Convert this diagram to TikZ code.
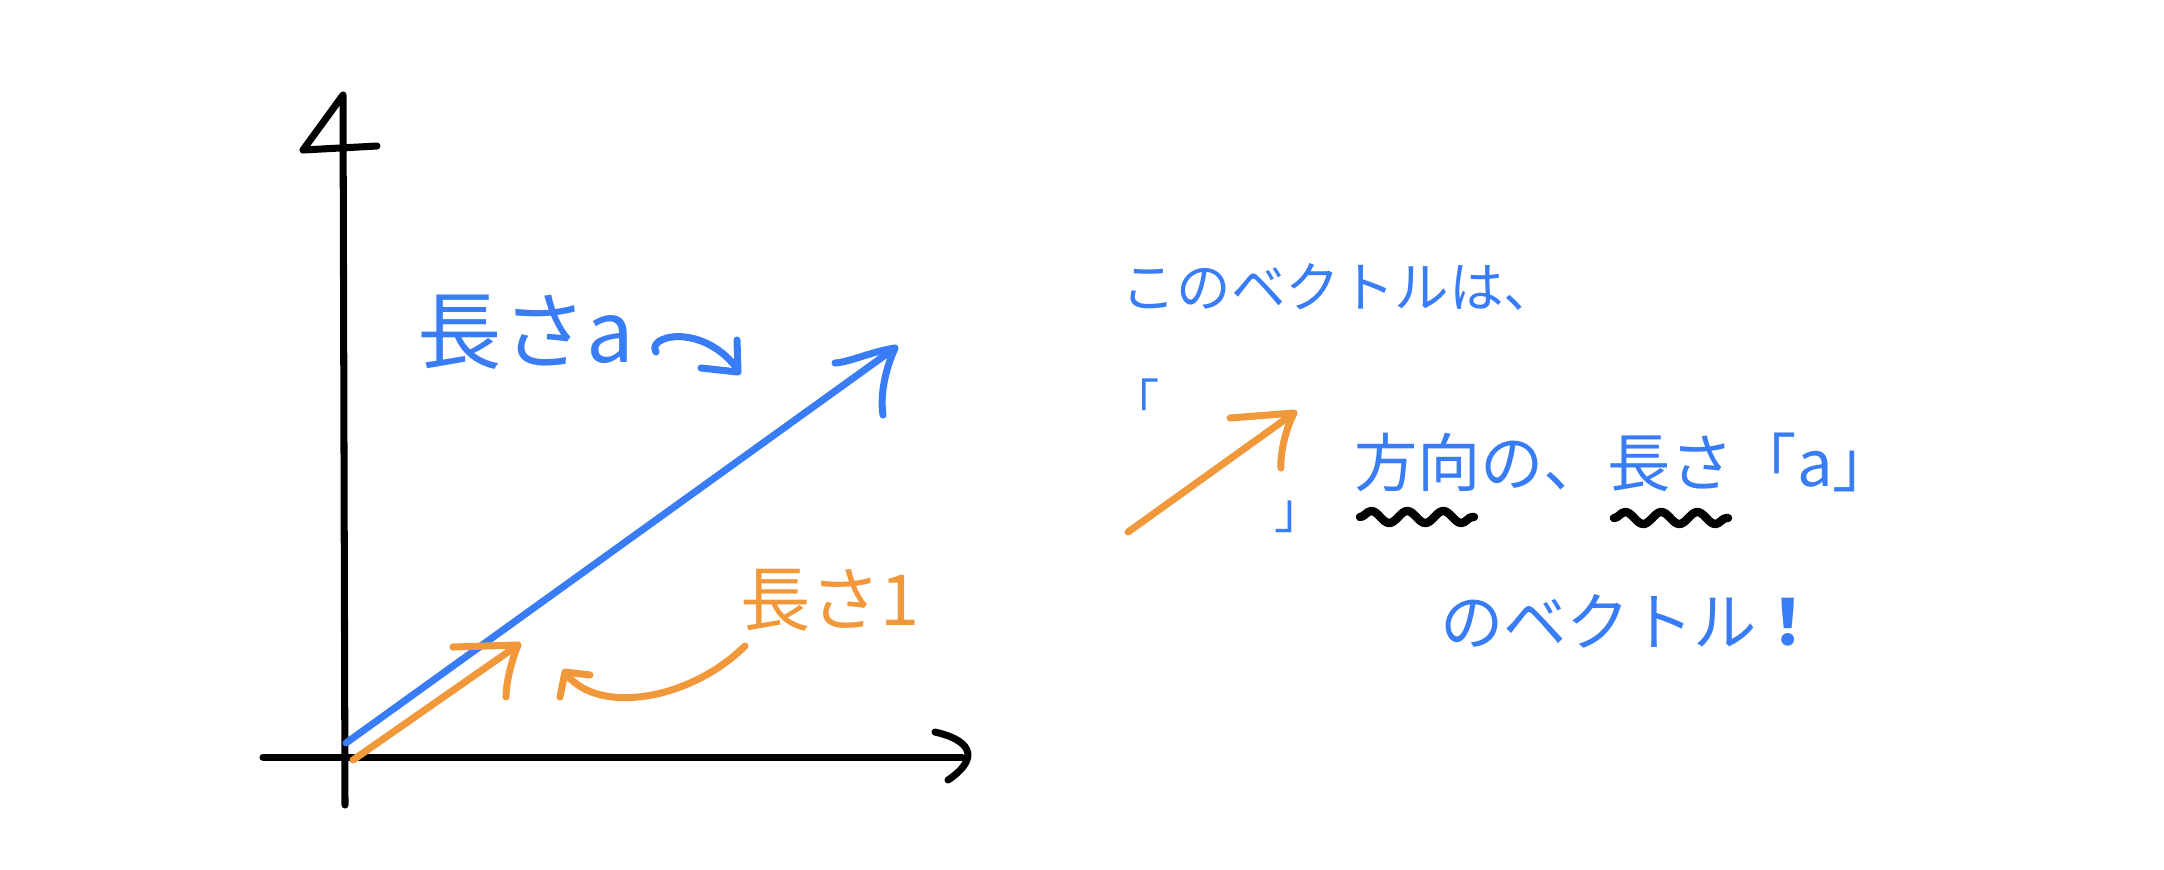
\documentclass[tikz,border=0pt]{standalone}
\usepackage{fontspec}
\newfontfamily\jp{Noto Sans CJK JP}
\usetikzlibrary{decorations.pathmorphing,positioning}
\definecolor{penblue}{RGB}{56,125,245}
\definecolor{penorange}{RGB}{240,152,58}

\begin{document}
\begin{tikzpicture}[x=0.01cm,y=-0.01cm,
  pen/.style={line width=2pt,line cap=round,line join=round},
  axis/.style={pen,black},
  wavy/.style={pen,black,line width=2.4pt,decorate,decoration={snake,segment length=0.36cm,amplitude=0.06cm}},
  memo/.style={inner sep=0pt,font=\jp\fontsize{#1}{#1}\selectfont}]
\useasboundingbox (0,0) rectangle (2164,869);
\coordinate (O) at (345,757);
\coordinate (ytop) at (343,95);
\coordinate (ybot) at (345,805);
\coordinate (xleft) at (263,757);
\coordinate (xright) at (962,757);
\draw[axis] (ybot) -- (ytop) -- (303,150) -- (377,146);
\draw[axis] (xleft) -- (xright);
\draw[axis] (935,732) .. controls (978,742) and (975,762) .. (948,780);

\coordinate (a0) at (346,743);
\coordinate (a1) at (895,348);
\draw[pen,penblue] (a0) -- (a1);
\draw[pen,penblue] (835,363) .. controls (850,362) and (870,352) .. (a1) .. controls (885,370) and (880,395) .. (883,415);

\coordinate (e0) at (353,760);
\coordinate (e1) at (518,645);
\draw[pen,penorange] (e0) -- (e1);
\draw[pen,penorange] (453,647) -- (e1) .. controls (510,665) and (506,685) .. (506,697);

\node[memo=24,text=penblue] (lenA) at (526,332) {長さa};
\coordinate (hookA) at (656,352);
\coordinate (hookB) at (736,367);
\draw[pen,penblue] (hookA) .. controls (646,336) and (700,322) .. (hookB);
\draw[pen,penblue] (737,340) -- (738,372) -- (701,368);

\node[memo=20,text=penorange] (len1) at (830,600) {長さ1};
\coordinate (bendA) at (745,646);
\coordinate (bendB) at (567,675);
\draw[pen,penorange] (bendA) .. controls (690,700) and (600,715) .. (bendB);
\draw[pen,penorange] (560,697) -- (565,672) -- (590,675);

\node[memo=15.5,text=penblue] (line1) at (1340,287) {このベクトルは、};
\node[memo=14,text=penblue] (opn) at (1135,400) {「};
\node[memo=14,text=penblue] (cls) at (1299,517) {」};
\coordinate (u0) at (1128,532);
\coordinate (u1) at (1294,413);
\draw[pen,penorange] (u0) -- (u1);
\draw[pen,penorange] (1230,418) -- (u1) .. controls (1285,430) and (1280,455) .. (1281,468);
\node[memo=18,text=penblue] (line2) at (1625,462) {方向の、長さ「a」};
\draw[wavy] (1360,517) -- (1474,517);
\draw[wavy] (1614,518) -- (1728,518);
\node[memo=18,text=penblue] (line3) at (1630,621) {のベクトル{\bfseries ！}};
\end{tikzpicture}
\end{document}
